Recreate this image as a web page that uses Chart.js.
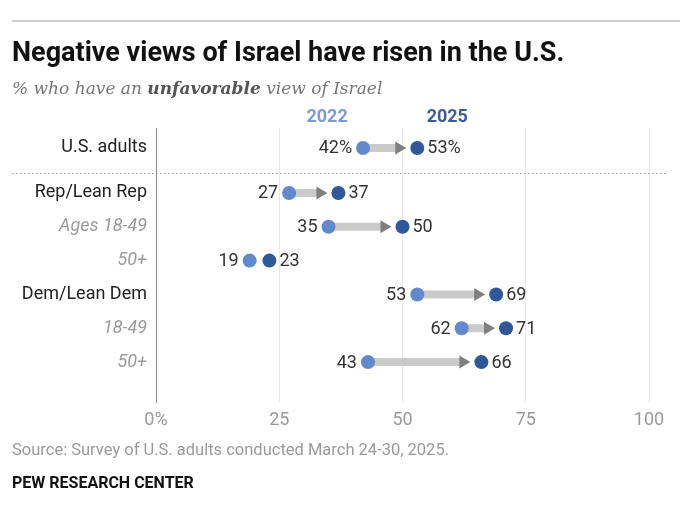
<!DOCTYPE html>
<html><head><meta charset="utf-8">
<script src="https://cdn.jsdelivr.net/npm/chart.js@4"></script>
<style>
html,body{margin:0;padding:0;background:#fff;}
#wrap{position:relative;width:680px;height:518px;overflow:hidden;font-family:"Roboto",sans-serif;}
#cv{position:absolute;left:0;top:0;}
.t{position:absolute;white-space:nowrap;}
#rule{position:absolute;left:12px;top:20px;width:668px;height:2px;background:#cfcfcf;}
#title{left:12px;top:37px;font-size:27px;font-weight:bold;color:#111;line-height:30px;}
#sub{left:12px;top:78px;font-family:"DejaVu Serif",serif;font-style:italic;font-size:17px;color:#777;line-height:20px;}
#sub b{color:#555;}
#src{left:12px;top:440px;font-size:16.5px;color:#9a9a9a;line-height:20px;}
#pew{left:12px;top:473px;font-size:16px;font-weight:bold;color:#111;line-height:20px;}
</style></head>
<body>
<div id="wrap">
<canvas id="cv" width="680" height="518"></canvas>
<div id="rule"></div>
<div class="t" id="title">Negative views of Israel have risen in the U.S.</div>
<div class="t" id="sub">% who have an <b>unfavorable</b> view of Israel</div>
<div class="t" id="src">Source: Survey of U.S. adults conducted March 24-30, 2025.</div>
<div class="t" id="pew">PEW RESEARCH CENTER</div>
</div>
<script>
const categories = ['U.S. adults','Rep/Lean Rep','Ages 18-49','50+','Dem/Lean Dem','18-49','50+'];
const isSubgroup = [false,false,true,true,false,true,true];
const values2022 = [42,27,35,19,53,62,43];
const values2025 = [53,37,50,23,69,71,66];
const seriesLabels = ['2022','2025'];
const xTickValues = [0,25,50,75,100];

const FONT = '"Roboto",sans-serif';
const C22 = '#6189cc';
const C25 = '#2f5898';
// first row is set apart from the rest by an extra third of a row
const rowPos = i => (i === 0 ? 0 : i + 0.33);

const overlay = {
  id: 'overlay',
  beforeDatasetsDraw(chart) {
    const {ctx, scales:{x, y}} = chart;
    ctx.save();
    const sy = Math.round(y.getPixelForValue(0.75)) + 0.5;
    ctx.strokeStyle = '#9a9a9a';
    ctx.lineWidth = 1;
    ctx.setLineDash([1.5, 2.5]);
    ctx.beginPath(); ctx.moveTo(12, sy); ctx.lineTo(666, sy); ctx.stroke();
    ctx.setLineDash([]);
    const r = 7;
    categories.forEach((c, i) => {
      const x1 = x.getPixelForValue(values2022[i]);
      const x2 = x.getPixelForValue(values2025[i]);
      const py = y.getPixelForValue(rowPos(i));
      const tip = x2 - r - 4;
      const headW = 11, headH = 13;
      if (tip - headW - (x1 + r) < 4) return;
      ctx.fillStyle = '#cacaca';
      ctx.fillRect(x1, py - 4, tip - headW - x1 + 1, 8);
      ctx.fillStyle = '#7f7f7f';
      ctx.beginPath();
      ctx.moveTo(tip - headW, py - headH / 2);
      ctx.lineTo(tip, py);
      ctx.lineTo(tip - headW, py + headH / 2);
      ctx.closePath(); ctx.fill();
    });
    ctx.restore();
  },
  afterDatasetsDraw(chart) {
    const {ctx, scales:{x, y}} = chart;
    ctx.save();
    ctx.font = '18px ' + FONT;
    ctx.fillStyle = '#333';
    ctx.textBaseline = 'middle';
    categories.forEach((c, i) => {
      const x1 = x.getPixelForValue(values2022[i]);
      const x2 = x.getPixelForValue(values2025[i]);
      const py = y.getPixelForValue(rowPos(i)) + 1;
      const suf = i === 0 ? '%' : '';
      ctx.textAlign = 'right';
      ctx.fillText(values2022[i] + suf, x1 - 11, py);
      ctx.textAlign = 'left';
      ctx.fillText(values2025[i] + suf, x2 + 10, py);
    });
    ctx.font = 'bold 18px ' + FONT;
    ctx.textAlign = 'center';
    const hy = y.getPixelForValue(rowPos(0)) - 30;
    ctx.fillStyle = '#7b9bd3';
    ctx.fillText(seriesLabels[0], x.getPixelForValue(values2022[0]) - 36, hy);
    ctx.fillStyle = '#3e5b98';
    ctx.fillText(seriesLabels[1], x.getPixelForValue(values2025[0]) + 30, hy);
    ctx.restore();
  }
};

new Chart(document.getElementById('cv'), {
  type: 'scatter',
  data: {
    datasets: [
      { label: seriesLabels[0], data: values2022.map((v, i) => ({x: v, y: rowPos(i)})),
        backgroundColor: C22, borderColor: C22, pointRadius: 7, pointHoverRadius: 7, borderWidth: 0 },
      { label: seriesLabels[1], data: values2025.map((v, i) => ({x: v, y: rowPos(i)})),
        backgroundColor: C25, borderColor: C25, pointRadius: 7, pointHoverRadius: 7, borderWidth: 0 }
    ]
  },
  options: {
    responsive: false,
    animation: false,
    layout: { padding: { left: 0, top: 128, right: 31, bottom: 86 } },
    plugins: { legend: { display: false }, tooltip: { enabled: false } },
    scales: {
      x: {
        type: 'linear', min: 0, max: 100,
        afterBuildTicks: s => { s.ticks = xTickValues.map(v => ({value: v})); },
        afterFit: s => { s.height = 30; },
        grid: { drawTicks: false, color: c => (c.tick && c.tick.value === 0 ? 'rgba(0,0,0,0)' : '#e8e8e8'), lineWidth: 1 },
        border: { display: false },
        ticks: { padding: 8, color: '#9a9a9a', font: { family: FONT, size: 18 },
                 callback: v => (v === 0 ? '0%' : String(v)) }
      },
      y: {
        type: 'linear', reverse: true, min: -0.59, max: 7.51,
        afterBuildTicks: s => { s.ticks = categories.map((c, i) => ({value: rowPos(i)})); },
        afterFit: s => { s.width = 156; },
        grid: { display: false, drawTicks: false },
        border: { display: true, color: '#8a8a8a', width: 1 },
        ticks: { autoSkip: false, padding: 9,
                 color: c => (isSubgroup[c.index] ? '#9a9a9a' : '#222'),
                 font: c => ({ family: FONT, size: 18, style: isSubgroup[c.index] ? 'italic' : 'normal' }),
                 callback: (v, idx) => categories[idx] }
      }
    }
  },
  plugins: [overlay]
});
</script>
</body></html>
